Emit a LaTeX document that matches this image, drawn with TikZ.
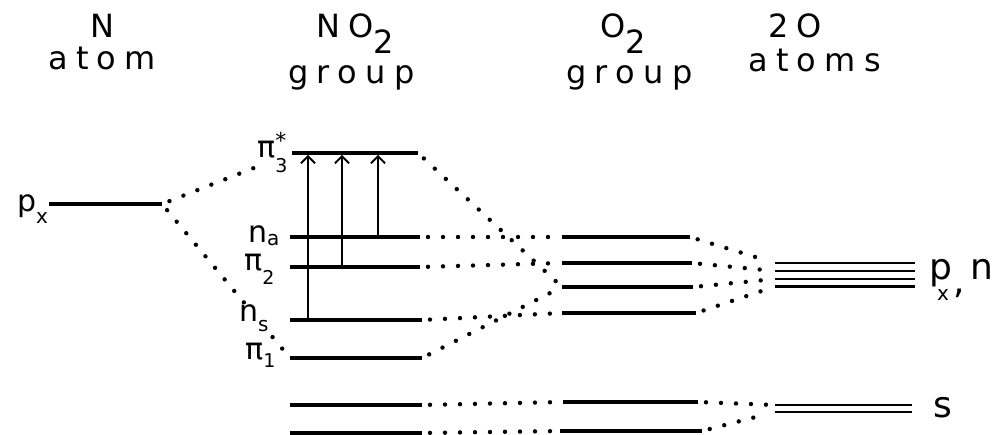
\documentclass[tikz,border=0pt]{standalone}
\usepackage{fontspec}
\setmainfont{DejaVu Sans}
\newfontfamily\hdr[LetterSpace=26]{DejaVu Sans}
\usetikzlibrary{arrows.meta}
\begin{document}
\begin{tikzpicture}[x=1pt,y=-1pt,
  lvl/.style={line width=3.2pt},
  alvl/.style={line width=2.6pt},
  dots/.style={line width=4.4pt, line cap=round, dash pattern=on 0pt off 15pt, shorten <=8pt, shorten >=8pt},
  exc/.style={line width=1.8pt, -{Straight Barb[length=7pt,width=14pt,line width=1.8pt]}},
  hd/.style={anchor=base west, inner sep=0pt, font=\hdr\fontsize{32}{32}\selectfont},
  lab/.style={anchor=base west, inner sep=1pt, fill=white, font=\fontsize{30}{30}\selectfont},
  rlab/.style={anchor=base west, inner sep=0pt, font=\fontsize{36}{36}\selectfont},
]
\useasboundingbox (0,0) rectangle (997,435);
% headers
\node[hd] (hN) at (90,38) {N};
\node[hd] (hatom) at (48,70) {atom};
\node[hd] (hNO) at (316,38) {NO\raisebox{-16pt}{2}};
\node[hd] (hg1) at (288,84) {group};
\node[hd] (hO) at (600,38) {O\raisebox{-16pt}{2}};
\node[hd] (hg2) at (566,84) {group};
\node[hd] (h2O) at (768,38) {2O};
\node[hd] (hatoms) at (748,72) {atoms};
% level end points
\coordinate (pxL) at (48,204); \coordinate (pxR) at (162,204);
\coordinate (t3L) at (292,153); \coordinate (t3R) at (418,153);
\coordinate (naL) at (290,237); \coordinate (naR) at (420,237);
\coordinate (t2L) at (290,267); \coordinate (t2R) at (420,267);
\coordinate (nsL) at (290,320); \coordinate (nsR) at (422,320);
\coordinate (t1L) at (290,358); \coordinate (t1R) at (422,358);
\coordinate (saL) at (290,405); \coordinate (saR) at (422,405);
\coordinate (sbL) at (290,433); \coordinate (sbR) at (422,433);
\coordinate (o1L) at (562,237); \coordinate (o1R) at (690,237);
\coordinate (o2L) at (562,263); \coordinate (o2R) at (692,263);
\coordinate (o3L) at (562,287); \coordinate (o3R) at (693,287);
\coordinate (o4L) at (562,313); \coordinate (o4R) at (696,313);
\coordinate (osaL) at (563,402); \coordinate (osaR) at (698,402);
\coordinate (osbL) at (560,431); \coordinate (osbR) at (702,431);
\coordinate (a1L) at (775,263); \coordinate (a1R) at (915,263);
\coordinate (a2L) at (775,271); \coordinate (a2R) at (915,271);
\coordinate (a3L) at (775,279); \coordinate (a3R) at (915,279);
\coordinate (a4L) at (775,286.5); \coordinate (a4R) at (915,286.5);
\coordinate (baL) at (775,405); \coordinate (baR) at (912,405);
\coordinate (bbL) at (775,412); \coordinate (bbR) at (912,412);
% levels
\foreach \l in {px,t3,na,t2,ns,t1,sa,sb,o1,o2,o3,o4,osa,osb}
  \draw[lvl] (\l L) -- (\l R);
\foreach \l in {a1,a2,a3,a4,ba,bb}
  \draw[alvl] (\l L) -- (\l R);
% excitation arrows
\coordinate (e1a) at (308,320); \coordinate (e1b) at (308,155);
\coordinate (e2a) at (342,267); \coordinate (e2b) at (342,155);
\coordinate (e3a) at (378,237); \coordinate (e3b) at (378,155);
\draw[exc] (e1a) -- (e1b);
\draw[exc] (e2a) -- (e2b);
\draw[exc] (e3a) -- (e3b);
% correlation lines
\draw[dots, shorten >=36pt] (pxR) -- (t3L);
\draw[dots] (pxR) -- (t1L);
\draw[dots] (t3R) -- (o3L);
\draw[dots] (naR) -- (o1L);
\draw[dots] (t2R) -- (o2L);
\draw[dots] (nsR) -- (o4L);
\draw[dots] (t1R) -- (o3L);
\draw[dots] (saR) -- (osaL);
\draw[dots] (sbR) -- (osbL);
\draw[dots] (o1R) -- (a1L);
\draw[dots] (o2R) -- (a2L);
\draw[dots] (o3R) -- (a3L);
\draw[dots] (o4R) -- (a4L);
\draw[dots] (osaR) -- (baL);
\draw[dots] (osbR) -- (bbL);
% level labels
\node[lab] (lpx) at (16,212) {p\raisebox{-12pt}{\fontsize{20}{20}\selectfont x}};
\node[lab, fill=none] (lt3) at (256,158) {π\rlap{\raisebox{-15pt}{\fontsize{19}{19}\selectfont 3}}\raisebox{9pt}{\fontsize{22}{22}\selectfont *}};
\node[lab] (lna) at (247,243) {n\raisebox{-3pt}{\fontsize{20}{20}\selectfont a}};
\node[lab] (lt2) at (243,271) {π\raisebox{-14pt}{\fontsize{19}{19}\selectfont 2}};
\node[lab] (lns) at (238,322) {n\raisebox{-10pt}{\fontsize{20}{20}\selectfont s}};
\node[lab] (lt1) at (244,360) {π\raisebox{-8pt}{\fontsize{19}{19}\selectfont 1}};
\node[rlab] (lpxn) at (929,280) {p\kern-15pt\raisebox{-21pt}{\fontsize{20}{20}\selectfont x}\kern5pt\raisebox{-14pt}{,}\kern5pt n};
\node[rlab] (ls) at (933,418) {s};
\end{tikzpicture}
\end{document}
